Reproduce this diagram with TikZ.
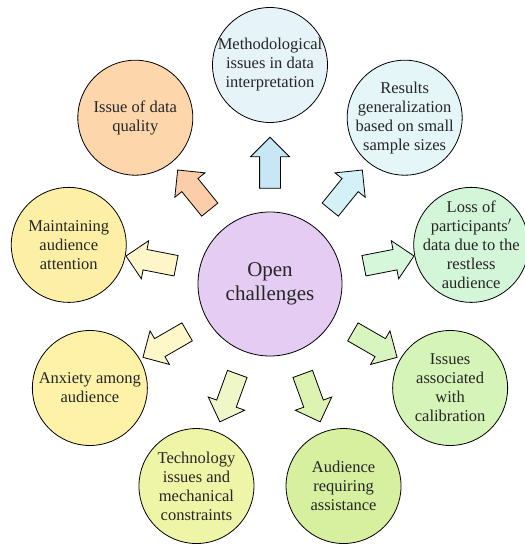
\documentclass[tikz,border=0pt]{standalone}
\usepackage{fontspec}
\setmainfont{Liberation Serif}
\usetikzlibrary{shapes.arrows, positioning, calc}

\definecolor{cCentre}{HTML}{E5CCF2}
\definecolor{cMethod}{HTML}{E6F4FA}
\definecolor{aMethod}{HTML}{C8E7F5}
\definecolor{cQuality}{HTML}{FDD6AC}
\definecolor{aQuality}{HTML}{FBCDA8}
\definecolor{cResults}{HTML}{E4F6F8}
\definecolor{aResults}{HTML}{D3F1F6}
\definecolor{cAttention}{HTML}{FDF0A6}
\definecolor{aAttention}{HTML}{FEF6C8}
\definecolor{cLoss}{HTML}{D3F5D8}
\definecolor{aLoss}{HTML}{D6F7DA}
\definecolor{cAnxiety}{HTML}{FDF2A8}
\definecolor{aAnxiety}{HTML}{FEF7C8}
\definecolor{cCalib}{HTML}{D5F4B8}
\definecolor{aCalib}{HTML}{D8F5C0}
\definecolor{cTech}{HTML}{EEF5A6}
\definecolor{aTech}{HTML}{EFF7C8}
\definecolor{cAssist}{HTML}{D6F0A0}
\definecolor{aAssist}{HTML}{DCF3B2}

\begin{document}
\begin{tikzpicture}[
  x=1pt, y=1pt,
  bubble/.style={draw, circle, line width=0.8pt, minimum size=115pt, inner sep=0pt},
  bubtext/.style={font=\fontsize{16.5}{19}\selectfont, align=center, text=black!85},
  bigtext/.style={font=\fontsize{21}{23.5}\selectfont, align=center, text=black!85},
  blockarrow/.style={draw, single arrow, line width=0.8pt, minimum height=51pt, single arrow head extend=9pt, inner sep=10pt}
]
\useasboundingbox (0,0) rectangle (525,544);

\node[bubble, bigtext, minimum size=144pt, fill=cCentre] (Open) at (270,260) {Open\\challenges};

% outer bubbles
\node[bubble, fill=cMethod] (Method) at ($(Open)+(90:219)$) {};
\node[bubtext] (Method_T) at (Method) {Methodological\\issues in data\\interpretation};
\node[bubble, fill=cQuality] (Quality) at ($(Open)+(129:214)$) {};
\node[bubtext] (Quality_T) at (Quality) {Issue of data\\quality};
\node[bubble, fill=cResults] (Results) at ($(Open)+(51:214)$) {};
\node[bubtext] (Results_T) at (Results) {Results\\generalization\\based on small\\sample sizes};
\node[bubble, fill=cAttention] (Attention) at ($(Open)+(169:205)$) {};
\node[bubtext] (Attention_T) at (Attention) {Maintaining\\audience\\attention};
\node[bubble, fill=cLoss] (Loss) at ($(Open)+(11:205)$) {};
\node[bubtext] (Loss_T) at (Loss) {Loss of\\participants$'$\\data due to the\\restless\\audience};
\node[bubble, fill=cAnxiety] (Anxiety) at ($(Open)+(210:208)$) {};
\node[bubtext] (Anxiety_T) at (Anxiety) {Anxiety among\\audience};
\node[bubble, fill=cCalib] (Calib) at ($(Open)+(330:208)$) {};
\node[bubtext] (Calib_T) at (Calib) {Issues\\associated\\with\\calibration};
\node[bubble, fill=cTech] (Tech) at ($(Open)+(250:215)$) {};
\node[bubtext] (Tech_T) at (Tech) {Technology\\issues and\\mechanical\\constraints};
\node[bubble, fill=cAssist] (Assist) at ($(Open)+(290:215)$) {};
\node[bubtext] (Assist_T) at (Assist) {Audience\\requiring\\assistance};

% block arrows
\node[blockarrow, fill=aMethod, rotate=90] (A_Method) at ($(Open)+(90:116)$) {};
\node[blockarrow, fill=aQuality, rotate=129] (A_Quality) at ($(Open)+(129:116)$) {};
\node[blockarrow, fill=aResults, rotate=51] (A_Results) at ($(Open)+(51:116)$) {};
\node[blockarrow, fill=aAttention, rotate=169] (A_Attention) at ($(Open)+(169:116)$) {};
\node[blockarrow, fill=aLoss, rotate=11] (A_Loss) at ($(Open)+(11:116)$) {};
\node[blockarrow, fill=aAnxiety, rotate=210] (A_Anxiety) at ($(Open)+(210:116)$) {};
\node[blockarrow, fill=aCalib, rotate=330] (A_Calib) at ($(Open)+(330:116)$) {};
\node[blockarrow, fill=aTech, rotate=250] (A_Tech) at ($(Open)+(250:116)$) {};
\node[blockarrow, fill=aAssist, rotate=290] (A_Assist) at ($(Open)+(290:116)$) {};
\end{tikzpicture}
\end{document}
